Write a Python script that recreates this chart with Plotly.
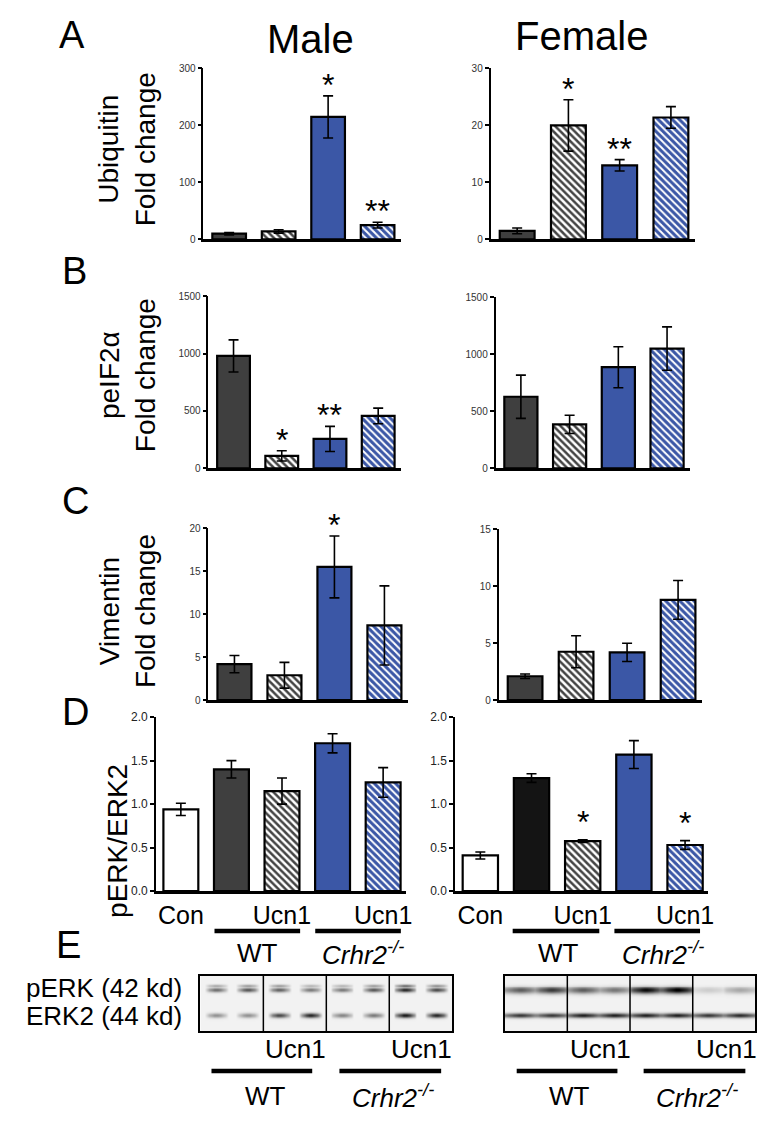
import numpy as np
import plotly.graph_objects as go

W, H = 771, 1125

# ---------------- data ----------------
ubq_male = [10, 14, 215, 25]
ubq_male_err = [2, 3, 37, 5]
ubq_male_sig = ["", "", "*", "**"]
ubq_female = [1.5, 20.0, 13.0, 21.4]
ubq_female_err = [0.5, 4.5, 1.0, 1.9]
ubq_female_sig = ["", "*", "**", ""]

peif_male = [980, 108, 256, 457]
peif_male_err = [140, 45, 110, 68]
peif_male_sig = ["", "*", "**", ""]
peif_female = [628, 385, 887, 1051]
peif_female_err = [190, 80, 180, 190]
peif_female_sig = ["", "", "", ""]

vim_male = [4.2, 2.9, 15.5, 8.7]
vim_male_err = [1.0, 1.5, 3.6, 4.6]
vim_male_sig = ["", "", "*", ""]
vim_female = [2.1, 4.25, 4.2, 8.8]
vim_female_err = [0.2, 1.4, 0.8, 1.7]
vim_female_sig = ["", "", "", ""]

perk_male = [0.94, 1.40, 1.15, 1.70, 1.25]
perk_male_err = [0.07, 0.10, 0.15, 0.11, 0.17]
perk_male_sig = ["", "", "", "", ""]
perk_female = [0.41, 1.30, 0.575, 1.57, 0.53]
perk_female_err = [0.04, 0.05, 0.015, 0.16, 0.05]
perk_female_sig = ["", "", "*", "", "*"]

d_ticktext = ["Con", "Ucn1", "Ucn1"]

# western blot band intensities (8 lanes each)
m_perk_upper = [0.30, 0.35, 0.35, 0.25, 0.25, 0.35, 0.55, 0.40]
m_perk_lower = [0.55, 0.65, 0.60, 0.50, 0.50, 0.65, 0.85, 0.70]
m_erk2 = [0.40, 0.40, 0.70, 0.85, 0.45, 0.50, 0.90, 0.85]
f_perk = [0.60, 0.75, 0.60, 0.50, 0.95, 1.00, 0.15, 0.30]
f_erk2 = [0.75, 0.75, 0.85, 0.85, 0.85, 0.85, 0.75, 0.80]

# ---------------- styles ----------------
DARK = "#3f3f3f"
BLACK = "#141414"
BLUE = "#3b57a6"
FONT = "Arial, Liberation Sans, sans-serif"
NARROW = "Liberation Sans Narrow, Arial Narrow, Arial, sans-serif"

style4 = dict(color=[DARK, "white", BLUE, BLUE],
              shape=["", "\\", "", "\\"],
              fg=["black", "black", "white", "white"],
              sol=[0.5, 0.5, 0.5, 0.4])

# page placement correction (page margin / capture scaling)
OX, OY, SX, SY = 8.0, 13.5, 0.985, 0.988


def cx(a):
    return (a - OX) / SX / W


def cy(a):
    return 1 - (a - OY) / SY / H


def px_x(a, b):
    return [cx(a), cx(b)]


def px_y(top, bottom):
    return [cy(bottom), cy(top)]


fig = go.Figure()

panels = [
    (ubq_male, ubq_male_err, ubq_male_sig, (202, 398, 67, 238), 300, 100, 4),
    (ubq_female, ubq_female_err, ubq_female_sig, (487, 690, 67, 238), 30, 10, 4),
    (peif_male, peif_male_err, peif_male_sig, (207, 398, 295, 467), 1500, 500, 4),
    (peif_female, peif_female_err, peif_female_sig, (492, 685, 296, 467), 1500, 500, 4),
    (vim_male, vim_male_err, vim_male_sig, (207, 405, 527, 699), 20, 5, 4),
    (vim_female, vim_female_err, vim_female_sig, (495, 697, 528, 699), 15, 5, 4),
    (perk_male, perk_male_err, perk_male_sig, (155, 403, 716, 890), 2.0, 0.5, 5),
    (perk_female, perk_female_err, perk_female_sig, (452, 703, 716, 890), 2.0, 0.5, 5),
]

annotations = []
layout_axes = {}

for k, (vals, errs, sigs, box, ymax, dtick, nb) in enumerate(panels, start=1):
    x0, x1, yt, yb = box
    if nb == 4:
        colors, shapes, fgs, sols = style4["color"], style4["shape"], style4["fg"], style4["sol"]
        xr = [-0.52, 3.47]
        bw = 0.68
    else:
        second = DARK if k == 7 else BLACK
        colors = ["white", second, "white", BLUE, BLUE]
        shapes = ["", "", "\\", "", "\\"]
        fgs = ["black", "black", "black", "white", "white"]
        sols = [0.5, 0.5, 0.5, 0.5, 0.4]
        xr = [-0.49, 4.45]
        bw = 0.69
    xs = list(range(nb))
    fig.add_trace(go.Bar(
        x=xs, y=vals, width=bw,
        xaxis=f"x{k}", yaxis=f"y{k}",
        marker=dict(color=colors, line=dict(color="black", width=2.2),
                    pattern=dict(shape=shapes, fgcolor=fgs, fgopacity=1,
                                 fillmode="overlay", size=5, solidity=sols)),
        error_y=dict(type="data", array=errs, color="black", thickness=1.6, width=5),
        showlegend=False, hoverinfo="skip"))

    is_d = nb == 5
    xa = dict(domain=px_x(x0, x1), anchor=f"y{k}", range=xr,
              showline=True, linecolor="black", linewidth=2.5,
              showgrid=False, zeroline=False, fixedrange=True)
    if is_d:
        xa.update(tickmode="array", tickvals=[0, 2, 4], ticktext=d_ticktext,
                  ticks="", tickfont=dict(family=FONT, size=25, color="black"))
    else:
        xa.update(showticklabels=False, ticks="")
    ya = dict(domain=px_y(yt, yb), anchor=f"x{k}", range=[0, ymax],
              tickmode="linear", tick0=0, dtick=dtick,
              showline=True, linecolor="black", linewidth=2 if is_d else 1.6,
              ticks="outside", ticklen=4, tickwidth=1.5, tickcolor="black",
              showgrid=False, zeroline=False, fixedrange=True)
    if is_d:
        ya.update(tickformat=".1f", tickfont=dict(family=FONT, size=12, color="#222"))
    else:
        ya.update(tickfont=dict(family=NARROW, size=10, color="#333"))
    layout_axes[f"xaxis{k}"] = xa
    layout_axes[f"yaxis{k}"] = ya

    for i, s in enumerate(sigs):
        if s:
            annotations.append(dict(
                x=i, y=vals[i] + errs[i], xref=f"x{k}", yref=f"y{k}",
                text=s, showarrow=False, yanchor="bottom",
                yshift=-2 if is_d else -9,
                font=dict(family=FONT, size=32, color="black")))

# ---------------- western blots ----------------


def blot_z(upper, lower, erk, wide):
    n_lane = len(lower)
    cols = n_lane * 12
    xc = (np.arange(cols) + 0.5) / 12.0
    yc = np.arange(0, 55, 1.0) + 0.5
    lane = np.minimum((xc).astype(int), n_lane - 1)
    frac = xc - lane
    if wide:
        hx = np.clip(1 - np.abs(frac - 0.5) / 0.62, 0, 1) ** 0.4
    else:
        hx = np.clip(1 - np.abs(frac - 0.5) / 0.34, 0, 1) ** 0.5
    z = np.full((len(yc), cols), 0.05)
    for arr, y0, sig in ((upper, 9.0, 1.1), (lower, 14.0, 1.6 if not wide else 2.6),
                         (erk, 39.5, 1.7)):
        if arr is None:
            continue
        inten = np.array(arr)[lane] * hx
        z += np.exp(-0.5 * ((yc[:, None] - y0) / sig) ** 2) * inten[None, :]
    return xc, yc, np.clip(z, 0, 1)


blots = [
    (9, (199, 449, 975, 1030), m_perk_upper, m_perk_lower, m_erk2, False),
    (10, (501, 750, 975, 1030), None, f_perk, f_erk2, True),
]
for k, box, up, lo, er, wide in blots:
    xc, yc, z = blot_z(up, lo, er, wide)
    fig.add_trace(go.Heatmap(x=xc, y=yc, z=z, xaxis=f"x{k}", yaxis=f"y{k}",
                             colorscale=[[0, "white"], [1, "black"]], zmin=0, zmax=1,
                             showscale=False, zsmooth="best", hoverinfo="skip"))
    x0, x1, yt, yb = box
    layout_axes[f"xaxis{k}"] = dict(domain=px_x(x0, x1), anchor=f"y{k}", range=[0, 8],
                                    showline=True, mirror=True, linecolor="black",
                                    linewidth=1.5, showticklabels=False, ticks="",
                                    showgrid=False, zeroline=False)
    layout_axes[f"yaxis{k}"] = dict(domain=px_y(yt, yb), anchor=f"x{k}", range=[55, 0],
                                    showline=True, mirror=True, linecolor="black",
                                    linewidth=1.5, showticklabels=False, ticks="",
                                    showgrid=False, zeroline=False)

shapes = []
for k in (9, 10):
    for xv in (2, 4, 6):
        shapes.append(dict(type="line", xref=f"x{k}", yref=f"y{k} domain",
                           x0=xv, x1=xv, y0=0, y1=1,
                           line=dict(color="black", width=1.5)))


# ---------------- text & decorations ----------------


def txt(x, y, s, size, angle=0, xanchor="center"):
    annotations.append(dict(x=cx(x), y=cy(y), xref="paper", yref="paper",
                            text=s, showarrow=False, textangle=angle,
                            xanchor=xanchor, yanchor="middle",
                            font=dict(family=FONT, size=size, color="black")))


def hline(xa, xb, y, w=4.5):
    shapes.append(dict(type="line", xref="paper", yref="paper",
                       x0=cx(xa), x1=cx(xb), y0=cy(y), y1=cy(y),
                       line=dict(color="black", width=w)))


for letter, (lx, ly) in zip("ABCDE", [(72, 34), (74, 270), (75, 500), (75, 711), (68, 944)]):
    txt(lx, ly, letter, 38)

txt(308, 38, "Male", 40)
txt(577, 35, "Female", 40)

txt(126, 148, "Ubiquitin<br>Fold change", 28, angle=-90)
txt(126, 374, "peIF2α<br>Fold change", 28, angle=-90)
txt(126, 610, "Vimentin<br>Fold change", 28, angle=-90)
txt(116, 840, "pERK/ERK2", 28, angle=-90)

CRHR = "<i>Crhr2<sup>-/-</sup></i>"

hline(213, 298, 930)
hline(313, 398, 930)
hline(509, 595, 930)
hline(610, 695, 930)
txt(256, 952, "WT", 26)
txt(360, 952, CRHR, 26)
txt(554, 952, "WT", 26)
txt(658, 952, CRHR, 26)

txt(183, 987, "pERK (42 kd)", 26, xanchor="right")
txt(183, 1015, "ERK2 (44 kd)", 26, xanchor="right")

txt(293, 1048, "Ucn1", 26)
txt(418, 1048, "Ucn1", 26)
txt(596, 1048, "Ucn1", 26)
txt(721, 1048, "Ucn1", 26)
hline(210, 310, 1070)
hline(337, 438, 1070)
hline(513, 613, 1070)
hline(639, 740, 1070)
txt(264, 1095, "WT", 26)
txt(390, 1095, CRHR, 26)
txt(565, 1095, "WT", 26)
txt(692, 1095, CRHR, 26)

fig.update_layout(
    width=W, height=H,
    margin=dict(l=0, r=0, t=0, b=0),
    paper_bgcolor="white", plot_bgcolor="white",
    font=dict(family=FONT, color="black"),
    annotations=annotations, shapes=shapes,
    showlegend=False, bargap=0.3,
    **layout_axes,
)

fig.write_html("out.html")
